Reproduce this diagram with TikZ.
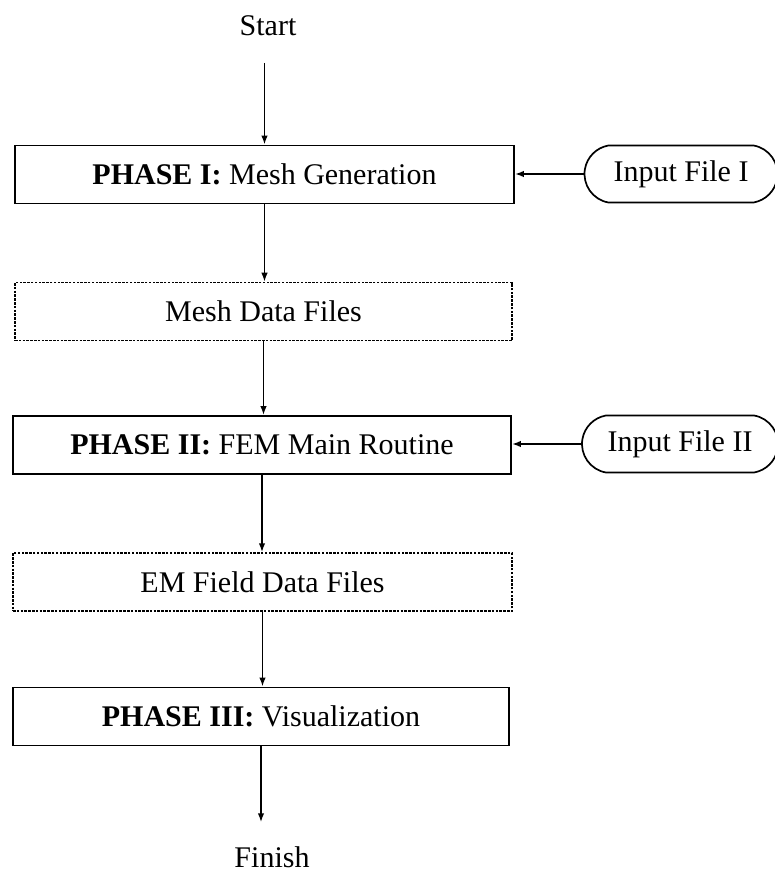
\documentclass[tikz,border=0pt]{standalone}
\usepackage{fontspec}
\setmainfont{Liberation Serif}
\usetikzlibrary{arrows.meta,shapes.misc}
\begin{document}
\begin{tikzpicture}[x=1pt,y=-1pt,
  every node/.style={font=\fontsize{30}{36}\selectfont, inner sep=0pt},
  phase/.style={draw, line width=1.8pt, minimum height=58pt},
  datafile/.style={draw, line width=1.5pt, dash pattern=on 2.5pt off 1.3pt, minimum height=58pt},
  inputfile/.style={draw, line width=1.7pt, rounded rectangle, rounded rectangle arc length=160, minimum height=57pt},
  arr/.style={line width=1.6pt, -{Latex[length=9pt,width=6.5pt]}}
]
\useasboundingbox (0,0) rectangle (775,882);
\node (start) at (268,25.5) {Start};
\node[phase, minimum width=499pt] (b1) at (264.5,174.5) {\textbf{PHASE I:} Mesh Generation};
\node[datafile, minimum width=497pt] (m1) at (263.5,311.5) {Mesh Data Files};
\node[phase, minimum width=498pt] (b2) at (262,445) {\textbf{PHASE II:} FEM Main Routine};
\node[datafile, minimum width=499pt] (m2) at (262.5,582) {EM Field Data Files};
\node[phase, minimum width=496pt] (b3) at (261,716.5) {\textbf{PHASE III:} Visualization};
\node (finish) at (272,857) {Finish};
\node[inputfile, minimum width=193pt] (in1) at (681,174) {Input File I};
\node[inputfile, minimum width=196pt] (in2) at (680,444) {Input File II};

\draw[arr, shorten <=27pt] (start.south -| b1.north) -- (b1.north);
\draw[arr] (b1.south) -- (b1.south |- m1.north);
\draw[arr] (m1.south) -- (m1.south |- b2.north);
\draw[arr] (b2.south) -- (b2.south |- m2.north);
\draw[arr] (m2.south) -- (m2.south |- b3.north);
\draw[arr, shorten >=24pt] (b3.south) -- (b3.south |- finish.north);
\draw[arr] (in1.west) -- (in1.west -| b1.east);
\draw[arr] (in2.west) -- (in2.west -| b2.east);
\end{tikzpicture}
\end{document}
